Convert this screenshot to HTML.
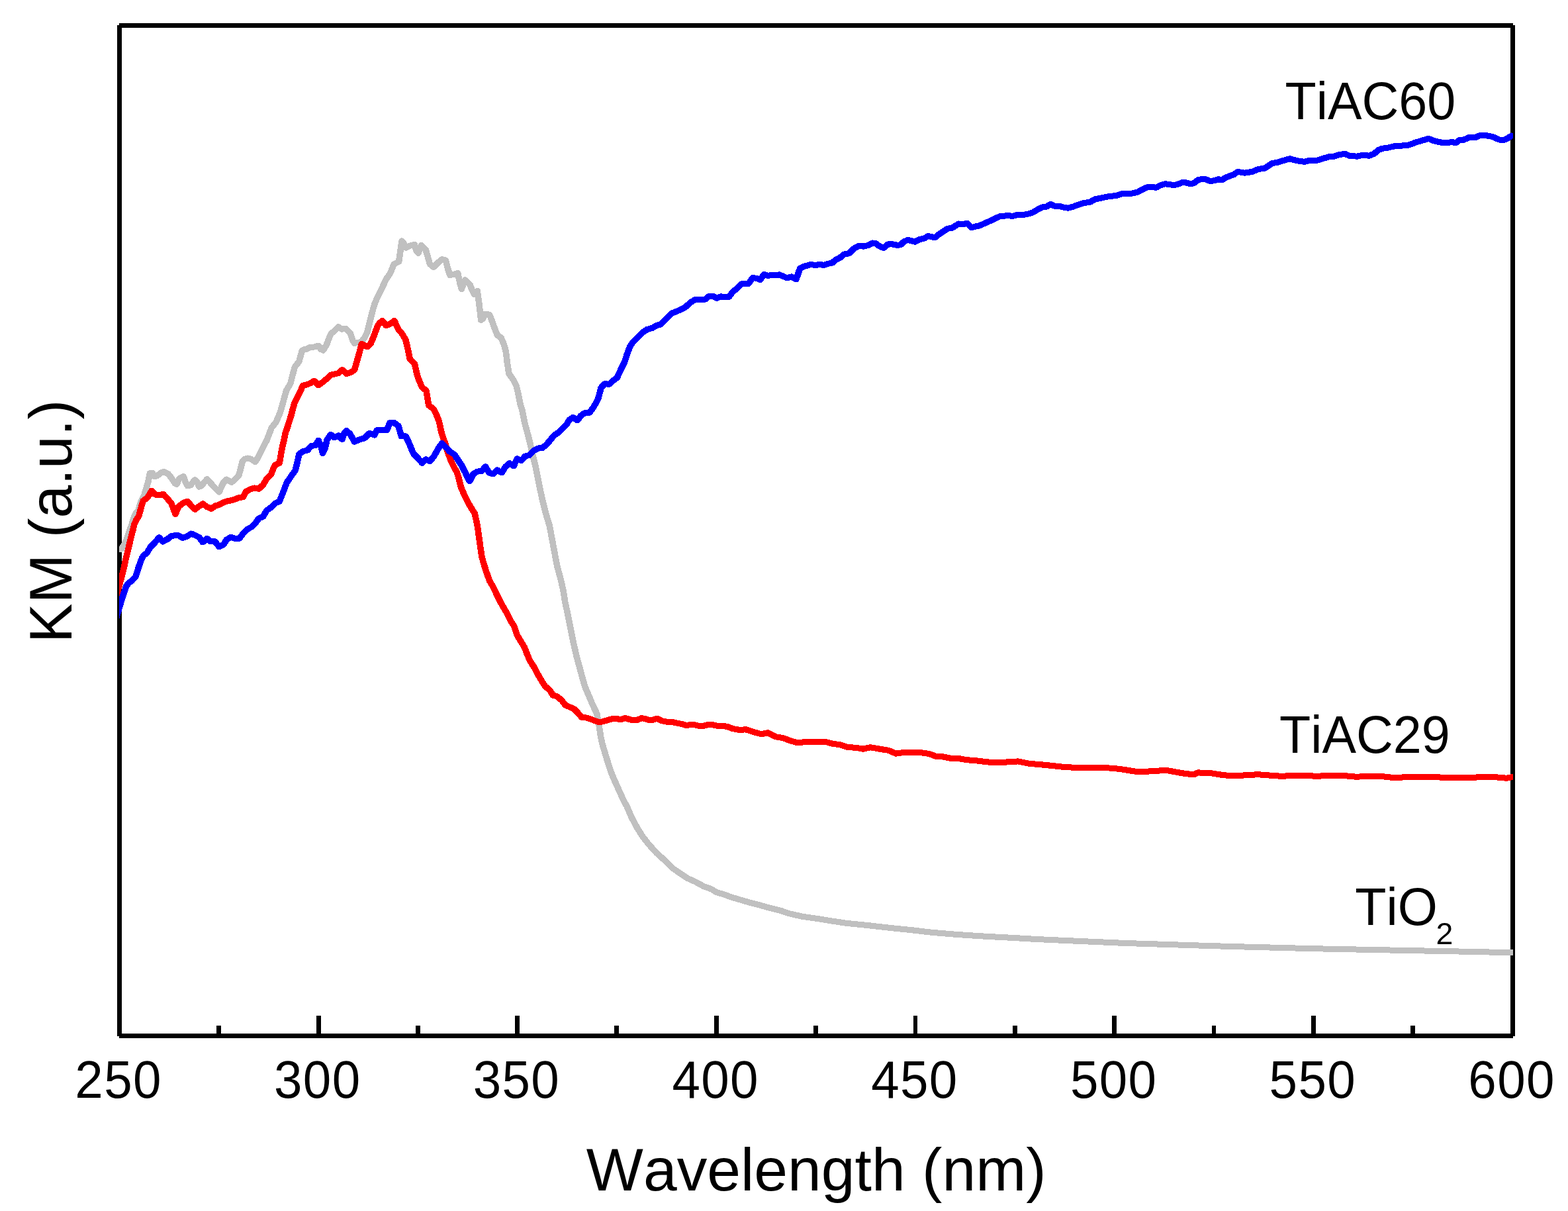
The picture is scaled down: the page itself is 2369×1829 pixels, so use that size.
<!DOCTYPE html>
<html lang="en"><head><meta charset="utf-8"><title>KM spectra</title>
<style>
html,body{margin:0;padding:0;background:#fff;}
body{width:2369px;height:1829px;overflow:hidden;}
svg{display:block;position:absolute;left:0;top:0;}
text{font-family:"Liberation Sans",Arial,Helvetica,sans-serif;fill:#000;font-kerning:none;}
.ay{font-size:89.3px;}
.tk{font-size:76.4px;letter-spacing:1.35px;}
.ax{font-size:91.26px;}
.lb{font-size:77.3px;}
.sub{font-size:46.5px;}
.cv{fill:none;stroke-width:9px;stroke-linejoin:round;stroke-linecap:round;}
</style></head><body>
<svg width="2369" height="1829" viewBox="0 0 2369 1829">
<rect x="0" y="0" width="2369" height="1829" fill="#ffffff"/>
<defs><clipPath id="plot"><rect x="180" y="38" width="2106" height="1527"/></clipPath></defs>
<g fill="#000" shape-rendering="crispEdges">
<rect x="177" y="38" width="7" height="1527"/>
<rect x="2282" y="38" width="7" height="1527"/>
<rect x="180" y="35" width="2106" height="7"/>
<rect x="180" y="1561" width="2106" height="7"/>
<rect x="327" y="1549" width="7" height="13"/>
<rect x="478" y="1534" width="7" height="28"/>
<rect x="628" y="1549" width="7" height="13"/>
<rect x="778" y="1534" width="7" height="28"/>
<rect x="928" y="1549" width="7" height="13"/>
<rect x="1079" y="1534" width="7" height="28"/>
<rect x="1229" y="1549" width="7" height="13"/>
<rect x="1380" y="1534" width="6" height="28"/>
<rect x="1530" y="1549" width="7" height="13"/>
<rect x="1680" y="1534" width="7" height="28"/>
<rect x="1831" y="1549" width="6" height="13"/>
<rect x="1981" y="1534" width="7" height="28"/>
<rect x="2131" y="1549" width="7" height="13"/>
</g>
<g clip-path="url(#plot)" class="cv" shape-rendering="crispEdges">
<path id="cg" stroke="#c0c0c0" d="M174.0,829.5 L183.5,829.0 L187.5,822.0 L190.3,816.9 L194.1,805.5 L198.4,793.2 L202.6,779.9 L205.5,774.0 L208.5,772.5 L212.3,758.2 L217.8,747.1 L223.3,728.7 L226.1,714.9 L229.8,714.4 L233.4,719.5 L237.1,718.6 L243.6,713.7 L247.2,712.6 L253.7,715.5 L258.3,721.4 L263.8,729.7 L266.6,731.5 L270.2,723.2 L276.7,719.5 L280.3,728.7 L283.1,733.9 L287.7,732.8 L294.1,724.7 L297.8,728.7 L300.6,735.2 L304.3,733.3 L312.5,723.6 L317.1,728.7 L324.5,737.0 L330.9,743.1 L334.6,734.3 L337.4,728.7 L342.0,724.1 L346.6,726.9 L349.3,728.4 L353.9,725.1 L360.3,718.6 L363.1,708.5 L365.9,697.5 L368.6,693.8 L374.1,692.0 L379.7,693.8 L385.2,697.5 L388.9,692.0 L396.2,677.2 L402.6,665.3 L407.2,653.3 L410.0,646.0 L416.6,637.9 L423.0,623.2 L427.6,606.7 L432.2,590.1 L438.6,579.1 L442.3,564.4 L445.1,554.3 L451.5,546.0 L456.1,529.4 L459.8,527.6 L463.4,527.2 L468.0,524.5 L475.4,523.9 L480.9,522.1 L484.6,527.6 L487.9,529.1 L492.9,521.1 L497.5,509.2 L500.2,503.7 L504.8,500.0 L510.9,493.6 L515.9,497.2 L522.3,496.3 L528.7,502.8 L532.4,513.8 L535.2,518.4 L539.8,517.5 L545.3,516.6 L549.9,511.0 L554.5,501.8 L558.2,487.1 L561.8,472.4 L565.5,459.5 L570.1,448.5 L576.6,435.6 L583.0,421.8 L589.4,412.6 L594.9,398.9 L598.6,397.0 L602.3,395.2 L604.1,382.3 L606.9,363.9 L609.7,367.6 L613.3,374.0 L618.9,371.3 L626.2,369.4 L629.0,379.5 L631.7,382.3 L636.3,370.3 L642.8,376.8 L645.5,386.0 L649.2,398.9 L654.7,403.4 L661.1,397.0 L667.6,391.5 L673.1,393.3 L675.9,404.4 L679.5,415.4 L685.1,414.5 L691.5,412.6 L694.3,426.4 L697.0,436.6 L702.5,422.8 L709.9,430.1 L712.6,437.5 L716.3,444.8 L720.9,439.3 L723.7,459.5 L726.4,483.4 L729.2,481.6 L732.9,474.3 L739.3,475.2 L743.9,487.1 L748.5,500.0 L751.3,506.4 L756.8,510.1 L761.4,521.1 L764.1,531.3 L766.0,547.8 L768.7,564.4 L775.2,573.6 L779.8,582.8 L782.5,593.8 L786.2,612.2 L788.3,618.4 L792.9,640.5 L797.5,657.0 L801.1,671.7 L804.8,688.3 L808.5,703.0 L812.2,721.4 L815.9,739.8 L819.5,756.3 L824.1,774.7 L829.7,793.1 L833.3,811.5 L837.0,831.7 L841.6,855.6 L847.1,875.9 L850.8,892.4 L853.6,910.1 L857.2,926.0 L861.8,949.9 L866.4,972.0 L871.0,992.2 L876.6,1012.4 L881.1,1029.0 L883.9,1038.2 L889.4,1051.0 L894.9,1063.9 L901.4,1077.7 L903.2,1087.8 L904.3,1090.7 L905.6,1101.4 L907.2,1112.0 L909.4,1122.7 L912.6,1133.4 L915.8,1144.1 L919.2,1154.7 L922.7,1165.4 L927.0,1176.1 L931.8,1186.8 L936.6,1197.4 L941.4,1208.1 L946.8,1217.9 L954.5,1235.7 L962.9,1251.2 L971.2,1264.3 L980.7,1276.2 L991.4,1288.1 L1003.3,1298.8 L1015.2,1310.7 L1027.1,1319.0 L1039.0,1326.8 L1051.0,1332.1 L1062.9,1338.7 L1074.8,1342.9 L1081.9,1347.6 L1092.6,1350.6 L1105.7,1355.4 L1120.0,1359.5 L1131.9,1363.1 L1146.2,1366.7 L1162.9,1371.4 L1180.0,1375.6 L1191.2,1379.6 L1213.2,1384.5 L1235.2,1387.5 L1257.1,1391.1 L1279.1,1394.4 L1312.1,1397.7 L1345.1,1401.5 L1378.0,1404.8 L1400.0,1407.5 L1409.6,1408.5 L1433.8,1410.5 L1460.7,1412.5 L1493.6,1414.5 L1531.3,1416.5 L1565.6,1418.5 L1609.4,1420.5 L1632.0,1421.5 L1655.0,1422.5 L1677.7,1423.5 L1700.8,1424.5 L1732.3,1425.5 L1763.8,1426.5 L1795.3,1427.5 L1826.0,1428.5 L1860.5,1429.5 L1898.6,1430.5 L1937.0,1431.5 L1975.4,1432.5 L2021.9,1433.5 L2074.7,1434.5 L2124.5,1435.5 L2177.2,1436.5 L2230.0,1437.5 L2265.0,1438.4 L2290.0,1438.8 L2293.0,1438.1"/>
<use href="#cg" x="0.6"/>
<path id="cr" stroke="#ff0000" d="M176.5,897.0 L180.5,882.0 L185.3,864.4 L187.6,854.9 L189.5,845.4 L191.4,837.8 L193.5,829.3 L196.4,816.9 L198.5,808.4 L200.7,799.8 L202.8,791.3 L205.5,785.5 L209.5,779.3 L213.2,765.5 L216.0,756.3 L222.4,751.7 L228.9,741.2 L234.4,747.1 L239.9,748.0 L246.3,746.2 L251.8,752.3 L258.3,759.6 L262.0,769.2 L264.7,776.6 L269.3,765.5 L275.7,760.0 L282.6,757.2 L288.6,763.7 L294.5,769.2 L300.6,764.6 L306.1,760.9 L312.5,765.5 L319.0,768.3 L325.4,763.7 L330.0,762.8 L335.5,759.6 L342.0,757.2 L352.1,755.0 L360.3,751.7 L366.8,750.8 L371.4,742.5 L377.8,738.9 L384.3,737.0 L390.7,738.3 L397.1,732.4 L402.6,723.2 L409.1,716.8 L412.8,707.6 L415.5,702.1 L422.0,699.3 L424.7,682.8 L426.8,672.4 L429.1,663.3 L430.9,654.1 L434.1,644.9 L436.9,635.8 L439.8,626.6 L442.1,617.5 L444.8,608.3 L449.2,599.2 L454.0,590.0 L457.0,582.4 L463.4,580.9 L469.0,578.5 L474.5,575.4 L480.9,581.8 L488.3,576.3 L493.8,571.7 L499.3,566.2 L506.7,564.7 L511.3,563.4 L516.8,558.5 L523.2,564.4 L529.7,562.5 L535.2,558.9 L538.9,546.0 L542.5,533.1 L546.2,519.3 L554.5,523.9 L560.0,518.4 L564.6,507.4 L570.1,492.6 L572.9,488.0 L577.5,484.4 L583.0,491.7 L589.4,489.0 L595.5,484.4 L601.4,497.2 L606.9,503.7 L612.4,512.9 L615.2,523.9 L618.9,542.3 L626.2,549.7 L629.9,566.2 L633.6,576.3 L637.2,584.6 L643.7,590.1 L647.4,612.2 L654.7,617.7 L659.3,626.9 L663.0,636.1 L665.7,649.0 L667.8,657.0 L672.4,669.9 L676.1,682.8 L681.6,697.5 L685.3,704.8 L689.9,713.1 L692.6,721.4 L696.3,736.1 L701.8,749.0 L707.4,760.0 L712.9,769.2 L716.6,774.7 L719.3,785.7 L721.7,798.6 L725.7,828.0 L727.6,840.9 L731.3,853.8 L734.9,864.8 L739.5,877.7 L745.1,886.9 L750.6,898.9 L756.1,909.9 L758.9,914.9 L764.4,924.1 L770.8,937.0 L776.3,945.3 L780.9,959.1 L786.4,968.3 L792.0,977.5 L795.6,986.7 L800.2,997.7 L806.7,1007.8 L813.1,1019.8 L819.5,1030.8 L823.2,1036.3 L830.6,1042.8 L835.2,1050.1 L841.6,1052.0 L849.0,1058.4 L853.6,1064.8 L860.0,1067.6 L866.4,1070.3 L872.9,1076.8 L878.4,1083.2 L885.7,1084.1 L892.2,1086.0 L898.6,1088.7 L904.1,1090.6 L909.7,1090.0 L917.0,1087.8 L925.3,1085.6 L932.6,1085.6 L937.2,1086.9 L944.6,1084.5 L950.1,1086.3 L955.6,1087.8 L962.1,1087.4 L968.9,1084.7 L974.9,1085.6 L981.4,1087.8 L986.0,1087.4 L992.4,1085.1 L999.8,1088.7 L1009.0,1090.6 L1016.3,1090.6 L1023.7,1092.4 L1029.2,1093.3 L1036.6,1095.5 L1044.8,1094.3 L1049.4,1094.8 L1056.8,1096.6 L1063.2,1096.1 L1069.7,1094.6 L1077.0,1094.8 L1082.5,1096.1 L1088.0,1097.0 L1093.6,1096.6 L1100.0,1097.9 L1106.0,1100.4 L1117.0,1102.4 L1126.6,1101.8 L1139.0,1105.9 L1150.0,1108.7 L1159.6,1106.8 L1172.0,1112.8 L1183.0,1114.7 L1194.0,1118.8 L1204.9,1121.9 L1215.9,1120.5 L1229.7,1120.2 L1246.2,1120.2 L1257.1,1123.2 L1268.1,1124.6 L1280.5,1128.5 L1292.9,1129.3 L1303.8,1131.2 L1314.8,1128.7 L1325.8,1130.7 L1342.3,1133.4 L1353.3,1138.1 L1367.0,1136.2 L1378.0,1136.7 L1387.6,1136.2 L1402.7,1138.4 L1413.7,1142.2 L1424.7,1143.0 L1435.7,1145.2 L1449.5,1145.8 L1460.4,1147.7 L1476.9,1149.1 L1500.0,1151.8 L1515.9,1151.3 L1537.9,1149.9 L1554.4,1153.2 L1579.1,1155.4 L1603.8,1158.1 L1625.8,1159.5 L1669.8,1159.5 L1691.8,1161.4 L1713.7,1165.0 L1735.7,1165.0 L1745.3,1164.2 L1763.2,1163.6 L1785.2,1167.7 L1803.0,1169.9 L1809.9,1166.9 L1829.1,1167.7 L1842.9,1169.9 L1859.3,1171.9 L1878.6,1171.0 L1900.5,1169.7 L1917.0,1171.0 L1936.3,1172.4 L1958.2,1171.0 L1974.7,1171.0 L1988.5,1172.7 L2004.9,1171.0 L2026.9,1171.0 L2040.7,1172.7 L2050.0,1173.2 L2063.2,1172.5 L2082.5,1172.1 L2101.9,1174.2 L2114.7,1174.2 L2136.2,1173.1 L2157.7,1173.1 L2179.2,1174.2 L2196.3,1174.2 L2226.4,1174.2 L2247.9,1173.1 L2265.1,1174.2 L2275.8,1175.3 L2284.4,1173.6 L2293.0,1172.1"/>
<use href="#cr" x="0.6"/>
<path id="cb" stroke="#0000ff" d="M174.5,936.0 L180.5,916.0 L184.0,904.0 L187.5,893.8 L190.6,885.2 L194.5,880.0 L198.5,877.6 L204.6,871.0 L206.5,865.3 L208.9,857.2 L211.5,850.1 L214.2,843.0 L216.5,839.2 L221.7,835.0 L227.4,825.7 L232.6,820.7 L240.2,811.7 L243.1,815.5 L245.9,818.0 L252.8,814.3 L258.3,809.7 L263.8,808.7 L269.3,808.7 L275.7,812.4 L281.3,810.6 L288.6,806.0 L295.1,808.7 L300.6,811.5 L306.1,818.9 L312.5,813.3 L318.0,817.9 L324.5,817.9 L330.9,825.8 L337.4,822.5 L342.0,815.2 L348.4,811.1 L355.7,813.7 L361.3,813.3 L366.8,806.0 L373.2,799.5 L379.7,795.9 L386.1,789.4 L390.7,783.0 L397.1,780.2 L402.6,771.0 L409.1,766.4 L415.5,760.0 L422.0,757.2 L427.5,743.4 L433.0,728.7 L439.4,719.5 L445.9,710.3 L449.5,695.6 L451.4,686.4 L456.9,681.8 L464.3,680.0 L469.8,673.6 L476.2,672.6 L480.8,665.3 L484.5,673.6 L487.2,684.6 L490.9,677.2 L493.7,664.4 L499.2,656.1 L504.7,660.7 L511.1,657.9 L516.7,663.4 L520.3,653.3 L523.1,650.6 L528.6,655.2 L535.1,667.1 L541.5,664.4 L550.7,661.6 L558.0,654.3 L565.4,657.0 L569.4,649.7 L576.8,649.3 L584.1,650.0 L588.7,638.6 L595.2,638.6 L601.6,643.2 L606.2,658.9 L612.6,658.9 L617.2,668.0 L621.8,679.1 L624.6,685.5 L632.0,692.9 L637.5,699.3 L643.0,693.8 L649.4,696.6 L655.9,688.3 L661.4,678.2 L667.3,669.5 L673.3,675.4 L678.9,681.8 L686.2,686.4 L691.7,694.7 L697.2,703.0 L702.8,714.0 L709.2,726.9 L714.7,715.9 L721.1,712.2 L727.6,711.3 L733.1,704.8 L738.6,714.0 L745.1,715.9 L751.1,710.0 L757.9,714.0 L763.4,704.8 L769.5,699.7 L775.8,703.9 L780.9,692.9 L787.4,695.6 L792.9,689.2 L799.3,687.4 L805.7,680.9 L812.2,677.2 L819.5,676.3 L825.1,671.7 L830.6,665.3 L836.5,657.9 L843.4,653.3 L849.9,646.9 L855.4,641.4 L860.0,634.0 L865.5,630.3 L872.0,634.9 L877.5,627.6 L883.0,623.9 L890.3,623.4 L895.9,615.6 L900.5,608.3 L904.1,600.0 L907.8,585.6 L913.5,579.8 L920.5,580.2 L926.3,574.7 L932.0,570.5 L937.8,557.8 L943.6,546.2 L947.1,534.7 L951.7,523.1 L956.3,516.2 L963.3,509.2 L971.4,501.6 L977.1,497.7 L985.2,495.4 L992.2,491.4 L997.9,490.0 L1006.0,481.5 L1014.1,473.4 L1021.1,470.6 L1028.0,467.6 L1034.9,464.1 L1043.0,456.7 L1050.0,452.6 L1058.1,452.1 L1065.0,452.1 L1070.8,447.5 L1076.6,447.3 L1082.4,450.3 L1089.3,447.9 L1095.1,448.4 L1100.9,448.4 L1106.6,441.0 L1113.6,435.2 L1119.4,429.0 L1125.1,428.3 L1130.9,428.3 L1136.7,419.7 L1142.5,420.2 L1148.3,422.5 L1154.1,414.4 L1159.8,416.3 L1166.8,415.6 L1177.2,414.9 L1183.0,417.4 L1188.7,419.7 L1195.7,417.9 L1202.6,422.0 L1208.4,405.2 L1215.3,402.2 L1224.6,399.4 L1231.5,400.5 L1238.5,399.4 L1244.2,400.5 L1251.2,398.2 L1257.0,397.1 L1262.7,392.0 L1268.5,389.7 L1274.3,384.3 L1282.4,382.7 L1289.3,375.8 L1297.4,371.2 L1304.4,372.1 L1311.3,370.5 L1318.3,367.0 L1322.9,367.5 L1328.7,372.1 L1335.1,374.4 L1341.4,368.9 L1348.3,368.9 L1356.4,370.5 L1361.0,369.3 L1365.7,364.7 L1371.4,362.4 L1380.0,364.7 L1382.4,365.1 L1389.3,361.6 L1396.3,360.0 L1402.0,356.5 L1412.4,358.8 L1419.4,353.1 L1425.2,349.4 L1430.9,345.4 L1437.9,344.3 L1448.3,338.0 L1455.2,338.5 L1461.0,337.3 L1467.5,343.8 L1473.7,342.0 L1479.5,340.8 L1491.1,335.7 L1502.6,330.4 L1510.7,326.5 L1521.1,325.8 L1530.4,326.2 L1538.5,324.1 L1545.4,324.6 L1553.5,323.0 L1560.5,320.7 L1567.4,316.5 L1574.3,313.0 L1581.3,311.9 L1587.0,308.4 L1592.8,311.2 L1600.9,311.4 L1607.9,313.5 L1613.6,314.2 L1621.7,311.9 L1629.8,308.9 L1636.8,306.8 L1647.2,304.9 L1654.1,300.8 L1661.1,299.6 L1668.0,298.0 L1676.1,296.4 L1685.3,295.7 L1694.6,292.7 L1702.7,292.2 L1710.8,292.0 L1718.9,289.9 L1725.8,286.0 L1732.7,283.0 L1739.7,282.5 L1746.6,283.2 L1753.6,279.5 L1760.5,277.7 L1767.4,278.8 L1774.4,279.5 L1780.2,277.9 L1785.9,275.6 L1791.7,276.0 L1798.7,277.9 L1804.4,276.0 L1810.2,271.4 L1819.5,270.3 L1828.7,273.7 L1834.5,272.6 L1840.3,270.7 L1846.1,271.9 L1850.0,269.1 L1854.7,267.0 L1863.9,263.5 L1869.7,259.4 L1880.1,261.2 L1891.7,259.4 L1900.9,255.4 L1910.2,254.3 L1921.8,246.6 L1931.0,245.0 L1940.3,242.0 L1948.4,239.7 L1958.8,242.7 L1970.3,244.3 L1979.6,242.2 L1991.1,242.0 L1999.2,239.2 L2007.3,236.9 L2015.4,236.2 L2023.5,233.5 L2031.6,232.3 L2038.5,235.3 L2050.1,236.2 L2057.0,234.6 L2068.6,235.1 L2075.6,232.3 L2082.5,226.5 L2088.3,224.2 L2095.2,223.5 L2106.8,220.7 L2118.3,220.0 L2128.7,218.9 L2139.1,214.9 L2148.4,212.2 L2158.1,209.2 L2165.7,212.6 L2172.7,214.3 L2180.0,215.6 L2185.5,215.6 L2194.3,214.5 L2199.2,215.9 L2205.3,211.1 L2210.8,211.3 L2218.5,207.9 L2229.5,207.4 L2234.9,204.8 L2244.3,204.6 L2252.5,206.0 L2256.9,207.5 L2264.6,210.9 L2271.2,211.6 L2276.2,209.6 L2283.6,205.0"/>
<use href="#cb" x="0.6"/>
</g>
<g class="tk">
<text transform="translate(113.3,1658.3) scale(1,1.035)">250</text>
<text transform="translate(414.0,1658.3) scale(1,1.035)">300</text>
<text transform="translate(714.7,1658.3) scale(1,1.035)">350</text>
<text transform="translate(1015.4,1658.3) scale(1,1.035)">400</text>
<text transform="translate(1316.2,1658.3) scale(1,1.035)">450</text>
<text transform="translate(1616.9,1658.3) scale(1,1.035)">500</text>
<text transform="translate(1917.6,1658.3) scale(1,1.035)">550</text>
<text transform="translate(2218.3,1658.3) scale(1,1.035)">600</text>
</g>
<text class="ax" transform="translate(885.8,1798) scale(1,0.99)">Wavelength (nm)</text>
<text class="ay" transform="translate(108.3,970.9) rotate(-90) scale(1,1.015)">KM (a.u.)</text>
<text class="lb" transform="translate(1941.6,179.9) scale(1,1.03)">TiAC60</text>
<text class="lb" transform="translate(1933,1136.9) scale(1,1.03)">TiAC29</text>
<text class="lb" transform="translate(2047.3,1396.9) scale(1,1.03)">TiO</text>
<text class="sub" transform="translate(2169.6,1426)">2</text>
</svg>
</body></html>
